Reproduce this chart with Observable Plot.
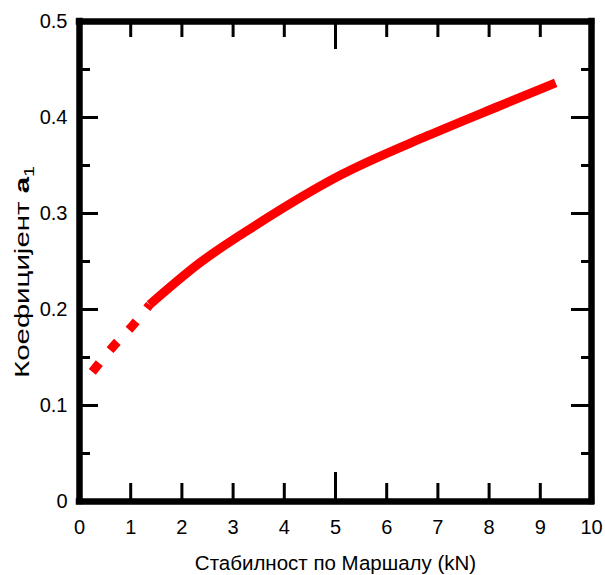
<!DOCTYPE html>
<html>
<head>
<meta charset="utf-8">
<script src="https://cdn.jsdelivr.net/npm/d3@7"></script>
<script src="https://cdn.jsdelivr.net/npm/@observablehq/plot@0.6"></script>
<style>
  body { margin: 0; background: #fff; overflow: hidden; }
  #chart svg { display: block; }
</style>
</head>
<body>
<div id="chart"></div>
<script>
// ---- data ----
const xTitle = "Стабилност по Маршалу (kN)";
const yTitleMain = "Коефицијент ";
const yTitleSymbol = "a";
const yTitleSub = "1";

const xTicks = [0, 1, 2, 3, 4, 5, 6, 7, 8, 9, 10];
const yTicks = [0, 0.1, 0.2, 0.3, 0.4, 0.5];
const xShortTicks = [1, 2, 3, 4, 6, 7, 8, 9];
const xLongTicks = [5];
const yMajorTicks = [0.1, 0.2, 0.3, 0.4];
const yMinorTicks = [0.05, 0.15, 0.25, 0.35, 0.45];
const xFrame = [0, 10];
const yFrame = [0, 0.5];

// dashed (extrapolated) part of the curve
const dashedX = [0.25, 0.65, 1.05, 1.37];
const dashedY = [0.135, 0.161, 0.184, 0.205];
// solid part of the curve
const solidX = [1.37, 2.36, 3.45, 5.1, 6.8, 8.2, 9.3];
const solidY = [0.205, 0.249, 0.288, 0.340, 0.381, 0.412, 0.436];

const dashed = dashedX.map((x, i) => ({x, y: dashedY[i]}));
const solid = solidX.map((x, i) => ({x, y: solidY[i]}));

// ---- layout ----
const W = 605, H = 575;
const mL = 79, mR = 14, mT = 21, mB = 74;
const innerW = W - mL - mR, innerH = H - mT - mB;
const font = "'Liberation Sans', Arial, Helvetica, sans-serif";
const ink = "#000";
const frameW = 6.5, tickW = 3;

const chart = Plot.plot({
  width: W,
  height: H,
  marginLeft: mL,
  marginRight: mR,
  marginTop: mT,
  marginBottom: mB,
  style: {fontFamily: font, fontSize: "20px", color: ink, background: "#fff", overflow: "visible"},
  x: {domain: [0, 10], axis: null},
  y: {domain: [0, 0.5], axis: null},
  marks: [
    // bottom ticks (inward)
    Plot.tickX(xShortTicks, {x: d => d, insetTop: innerH - 18, stroke: ink, strokeWidth: tickW}),
    Plot.tickX(xLongTicks, {x: d => d, insetTop: innerH - 29, stroke: ink, strokeWidth: tickW}),
    // top ticks
    Plot.tickX(xShortTicks, {x: d => d, insetBottom: innerH - 16, stroke: ink, strokeWidth: tickW}),
    Plot.tickX(xLongTicks, {x: d => d, insetBottom: innerH - 28, stroke: ink, strokeWidth: tickW}),
    // left ticks
    Plot.tickY(yMajorTicks, {y: d => d, insetRight: innerW - 19, stroke: ink, strokeWidth: tickW}),
    Plot.tickY(yMinorTicks, {y: d => d, insetRight: innerW - 11, stroke: ink, strokeWidth: tickW}),
    // right ticks
    Plot.tickY(yMajorTicks, {y: d => d, insetLeft: innerW - 20, stroke: ink, strokeWidth: tickW}),
    Plot.tickY(yMinorTicks, {y: d => d, insetLeft: innerW - 10, stroke: ink, strokeWidth: tickW}),
    // thick frame
    Plot.ruleX(xFrame, {x: d => d, stroke: ink, strokeWidth: frameW, strokeLinecap: "square"}),
    Plot.ruleY(yFrame, {y: d => d, stroke: ink, strokeWidth: frameW, strokeLinecap: "square"}),
    // curve
    Plot.line(dashed, {x: "x", y: "y", stroke: "#ff0000", strokeWidth: 9, strokeDasharray: "11,17", strokeLinecap: "butt", curve: "monotone-x"}),
    Plot.line(solid, {x: "x", y: "y", stroke: "#ff0000", strokeWidth: 9, strokeLinecap: "butt", curve: "monotone-x"}),
    // axes labels
    Plot.axisX({ticks: xTicks, tickSize: 0, tickPadding: 18, tickFormat: d => String(d), fontSize: 20, label: null}),
    Plot.axisY({ticks: yTicks, tickSize: 0, tickPadding: 12, tickFormat: d => String(d), fontSize: 20, label: null}),
    Plot.text([xTitle], {text: d => d, frameAnchor: "bottom", dy: 62, fontSize: 20.5, lineAnchor: "middle"})
  ]
});

document.getElementById("chart").appendChild(chart);

const svg = d3.select(chart);

// y-axis title with bold symbol and subscript
const t = svg.append("text")
  .attr("transform", "translate(29,272) rotate(-90)")
  .attr("text-anchor", "middle")
  .attr("font-family", font)
  .attr("font-size", 21)
  .attr("fill", ink)
  .attr("textLength", 212)
  .attr("lengthAdjust", "spacingAndGlyphs");
t.append("tspan").text(yTitleMain);
t.append("tspan").attr("font-weight", "bold").text(yTitleSymbol);
t.append("tspan").attr("font-size", 14).attr("dy", "0.35em").text(yTitleSub);
</script>
</body>
</html>
